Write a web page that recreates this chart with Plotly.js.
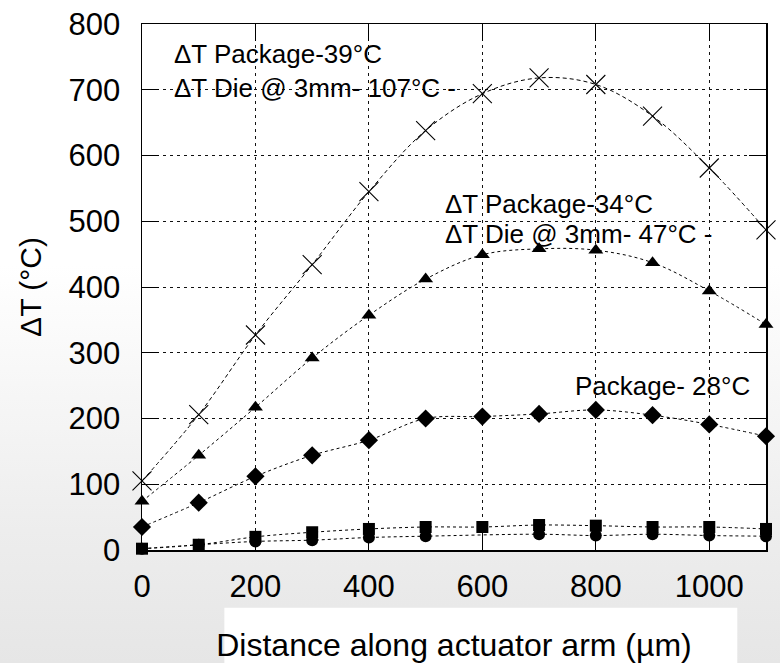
<!DOCTYPE html>
<html>
<head>
<meta charset="utf-8">
<script src="https://cdn.plot.ly/plotly-3.0.1.min.js"></script>
<style>
  html, body { margin: 0; padding: 0; }
  body {
    width: 780px; height: 663px; overflow: hidden;
    background: linear-gradient(to bottom, #ffffff 0%, #ffffff 40%, #ededed 80%, #e6e6e6 100%);
  }
  #chart { width: 780px; height: 663px; }
</style>
</head>
<body>
<div id="chart"></div>
<script>
// Distance along actuator arm (µm)
const distance = [0, 100, 200, 300, 400, 500, 600, 700, 800, 900, 1000, 1100];
// ΔT series (°C)
const crossSeries    = [105, 206, 327, 434, 545, 638, 694, 718, 708, 660, 581, 487];
const triangleSeries = [74, 144, 217, 292, 357, 412, 449, 458, 456, 437, 394, 343];
const diamondSeries  = [35, 72, 112, 144, 167, 200, 203, 207, 213, 205, 191, 173];
const squareSeries   = [2, 8, 20, 27, 32, 35, 35, 38, 37, 35, 35, 32];
const circleSeries   = [2, 8, 13, 15, 19, 21, null, 24, 22, 24, 22, 21];

const xTicks = [0, 200, 400, 600, 800, 1000];
const yTicks = [0, 100, 200, 300, 400, 500, 600, 700, 800];

const FONT = 'Liberation Sans, Arial, sans-serif';

function series(y, symbol, size, dash, open) {
  return {
    x: distance, y: y, type: 'scatter', mode: 'lines+markers',
    connectgaps: true, cliponaxis: false,
    line: { color: '#000', width: 1, dash: dash, shape: 'spline', smoothing: 1 },
    marker: open
      ? { symbol: symbol, size: size, color: '#000', line: { color: '#000', width: 1.1 } }
      : { symbol: symbol, size: size, color: '#000', line: { width: 0 } },
    hoverinfo: 'skip', showlegend: false
  };
}

const traces = [
  series(circleSeries, 'circle', 12, '3px,3px', false),
  series(squareSeries, 'square', 12, '3px,3px', false),
  series(diamondSeries, 'diamond', 14, '3px,3px', false),
  series(triangleSeries, 'triangle-up', 13, '3px,3px', false),
  series(crossSeries, 'x-thin-open', 19, '4px,3px', true)
];

const layout = {
  width: 780, height: 663,
  margin: { l: 141.5, r: 13.5, t: 24, b: 113 },
  paper_bgcolor: 'rgba(0,0,0,0)',
  plot_bgcolor: '#ffffff',
  font: { family: FONT, color: '#000' },
  xaxis: {
    range: [0, 1100],
    tickvals: xTicks, ticktext: xTicks.map(String),
    ticks: 'inside', ticklen: 17, tickcolor: '#000', tickwidth: 1,
    mirror: 'ticks',
    showline: true, linecolor: '#000', linewidth: 1.5,
    showgrid: true, gridcolor: '#111', gridwidth: 1, griddash: '3px,4px',
    zeroline: false,
    tickfont: { family: FONT, size: 31, color: '#000' },
    ticklabelstandoff: 8,
    title: { text: 'Distance along actuator arm (µm)', font: { family: FONT, size: 32, color: '#000' }, standoff: 34 }
  },
  yaxis: {
    range: [0, 800],
    tickvals: yTicks, ticktext: yTicks.map(String),
    ticks: 'inside', ticklen: 17, tickcolor: '#000', tickwidth: 1,
    mirror: 'allticks',
    showline: true, linecolor: '#000', linewidth: 1.5,
    showgrid: true, gridcolor: '#111', gridwidth: 1, griddash: '3px,4px',
    zeroline: false,
    tickfont: { family: FONT, size: 31, color: '#000' },
    ticklabelstandoff: 14,
    title: { text: 'ΔT (°C)', font: { family: FONT, size: 30, color: '#000' }, standoff: 18 }
  },
  shapes: [
    { type: 'rect', xref: 'paper', yref: 'paper', x0: 0.132, x1: 0.954, y0: -0.11, y1: -0.23,
      fillcolor: '#ffffff', line: { width: 0 }, layer: 'below' }
  ],
  annotations: [
    { text: 'ΔT Package-39°C', x: 52, y: 754, xref: 'x', yref: 'y', xanchor: 'left', yanchor: 'middle', showarrow: false, font: { family: FONT, size: 26, color: '#000' } },
    { text: 'ΔT Die @ 3mm- 107°C -', x: 52, y: 702, xref: 'x', yref: 'y', xanchor: 'left', yanchor: 'middle', showarrow: false, font: { family: FONT, size: 26, color: '#000' } },
    { text: 'ΔT Package-34°C', x: 530, y: 527, xref: 'x', yref: 'y', xanchor: 'left', yanchor: 'middle', showarrow: false, font: { family: FONT, size: 26, color: '#000' } },
    { text: 'ΔT Die @ 3mm- 47°C -', x: 530, y: 481, xref: 'x', yref: 'y', xanchor: 'left', yanchor: 'middle', showarrow: false, font: { family: FONT, size: 26, color: '#000' } },
    { text: 'Package- 28°C', x: 760, y: 249, xref: 'x', yref: 'y', xanchor: 'left', yanchor: 'middle', showarrow: false, font: { family: FONT, size: 26, color: '#000' } }
  ]
};

Plotly.newPlot('chart', traces, layout, { staticPlot: true, displayModeBar: false });
</script>
</body>
</html>
